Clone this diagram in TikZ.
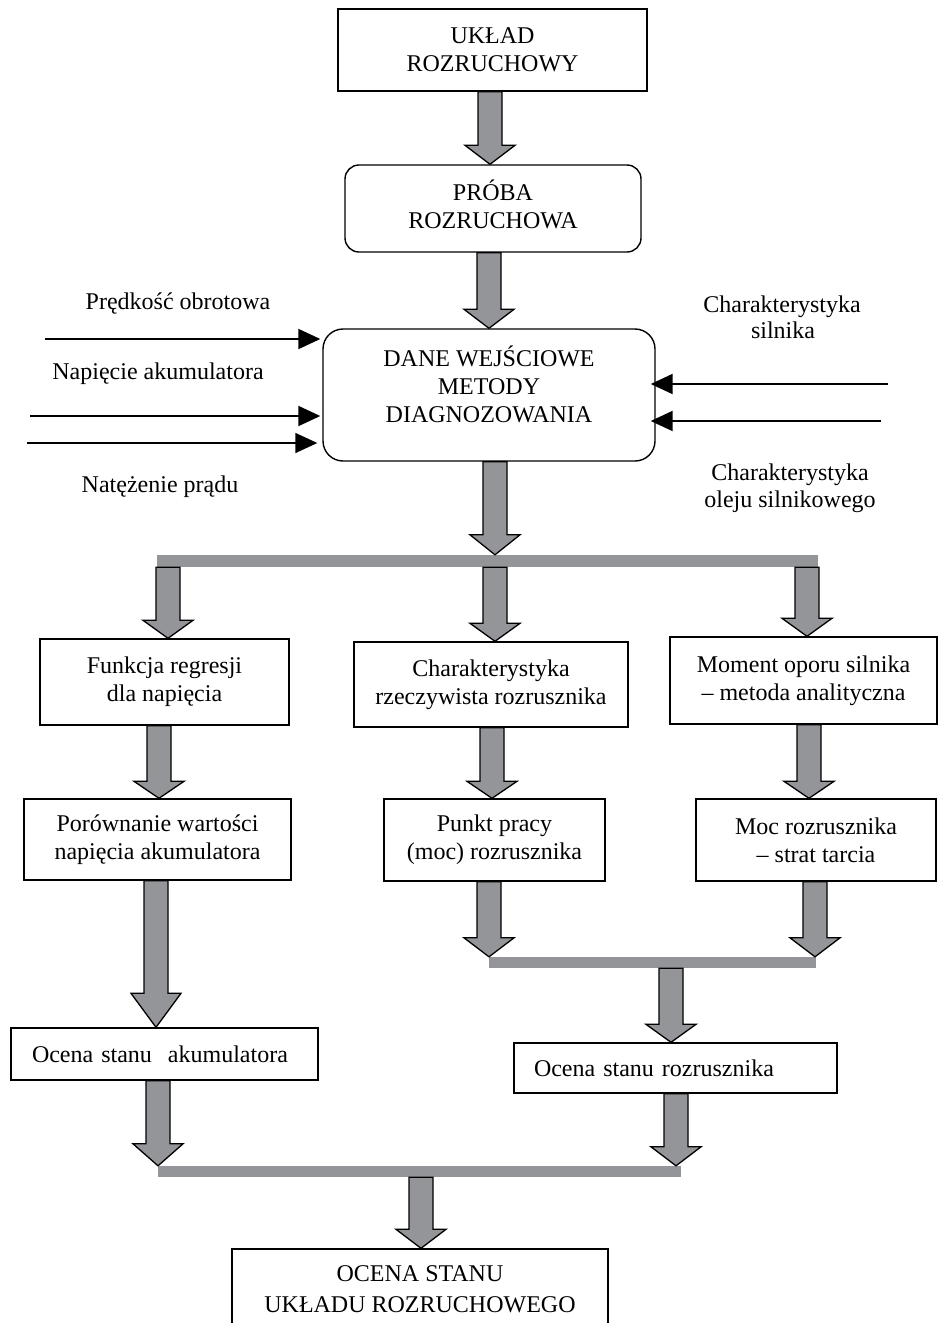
\documentclass[tikz,border=0pt]{standalone}
\usepackage{fontspec}
\setmainfont{Liberation Serif}
\usetikzlibrary{arrows.meta,calc}
\definecolor{arrgray}{HTML}{939598}
\tikzset{
  txt/.style={font=\fontsize{24}{28}\selectfont, inner sep=0pt},
  box/.style={txt, draw, line width=1.4pt, align=center},
  rbox/.style={box, rounded corners=#1},
  bar/.style={fill=arrgray, draw=none, inner sep=0pt},
  fatarrow/.style={fill=arrgray, draw=black, line width=1.3pt, line join=miter},
  inarrow/.style={line width=2pt, -{Triangle[length=22pt,width=20pt]}},
}
\newcommand\lift[1]{\rule[-#1]{0pt}{#1}}
\newcommand\fatarrow[4][19]{%
  \path[fatarrow] let \p1=(#3), \p2=(#4) in
    ({#2-12},\y1) -- ({#2+12},\y1) -- ({#2+12},\y2+#1pt) -- ({#2+25},\y2+#1pt)
    -- (#2,\y2) -- ({#2-25},\y2+#1pt) -- ({#2-12},\y2+#1pt) -- cycle;}
\begin{document}
\begin{tikzpicture}[x=1pt,y=-1pt]
\path[use as bounding box, fill=white] (0,0) rectangle (938,1323);

% boxes
\node[box, minimum width=309pt, minimum height=82pt] (uklad) at (492.5,50) {UKŁAD\\ROZRUCHOWY};
\node[rbox=14pt, minimum width=296pt, minimum height=87pt] (proba) at (493,208.5) {PRÓBA\\ROZRUCHOWA\lift{8pt}};
\node[rbox=20pt, minimum width=332pt, minimum height=132pt] (dane) at (489,395) {DANE WEJŚCIOWE\\METODY\\DIAGNOZOWANIA\lift{22pt}};

\node[bar, minimum width=661pt, minimum height=12pt] (bar1) at (487.5,561) {};

\node[box, minimum width=249pt, minimum height=86pt] (funkcja) at (164.5,682) {Funkcja regresji\\dla napięcia};
\node[box, minimum width=274pt, minimum height=85pt] (charakt) at (491,684.5) {Charakterystyka\\rzeczywista rozrusznika};
\node[box, minimum width=267pt, minimum height=87pt] (moment) at (803.5,680.5) {Moment oporu silnika\\– metoda analityczna};

\node[box, minimum width=267pt, minimum height=81pt] (porown) at (157.5,839.5) {Porównanie wartości\\napięcia akumulatora};
\node[box, minimum width=221pt, minimum height=82pt] (punkt) at (494.5,840) {Punkt pracy\\(moc) rozrusznika};
\node[box, minimum width=240pt, minimum height=82pt] (moc) at (816,840) {Moc rozrusznika\\– strat tarcia};

\node[bar, minimum width=327pt, minimum height=11pt] (bar2) at (652.5,962.5) {};

\node[box, align=left, text width=265pt, inner xsep=21pt, minimum height=52pt] (akum) at (164.5,1054) {Ocena stanu\ \ akumulatora};
\node[box, align=left, text width=283pt, inner xsep=20pt, minimum height=50pt] (rozr) at (675.5,1068) {Ocena stanu rozrusznika};

\node[bar, minimum width=523pt, minimum height=11pt] (bar3) at (419.5,1171.5) {};

\node[box, minimum width=376pt, minimum height=81pt] (final) at (420,1289.5) {OCENA STANU\\[3pt]UKŁADU ROZRUCHOWEGO};

% block arrows
\fatarrow{490}{uklad.south}{proba.north}
\fatarrow{489}{proba.south}{dane.north}
\fatarrow[20]{495}{dane.south}{bar1.north}
\fatarrow[18]{168}{bar1.south}{funkcja.north}
\fatarrow[18]{495}{bar1.south}{charakt.north}
\fatarrow[18]{807}{bar1.south}{moment.north}
\fatarrow[17]{159}{funkcja.south}{porown.north}
\fatarrow[17]{492}{charakt.south}{punkt.north}
\fatarrow[17]{809}{moment.south}{moc.north}
\fatarrow[34]{156}{porown.south}{akum.north}
\fatarrow{489}{punkt.south}{bar2.north}
\fatarrow{815}{moc.south}{bar2.north}
\fatarrow[18]{671}{bar2.south}{rozr.north}
\fatarrow[22]{158}{akum.south}{bar3.north}
\fatarrow{676}{rozr.south}{bar3.north}
\fatarrow{421}{bar3.south}{final.north}

% input arrows
\coordinate (in1) at (45,339);
\coordinate (in2) at (30,416);
\coordinate (in3) at (27,443);
\coordinate (in4) at (888,384);
\coordinate (in5) at (881,421);
\draw[inarrow, shorten >=2pt] (in1) -- (in1 -| dane.west);
\draw[inarrow, shorten >=2pt] (in2) -- (in2 -| dane.west);
\draw[inarrow, line width=1.5pt, shorten >=5pt] (in3) -- (in3 -| dane.west);
\draw[inarrow, shorten >=-5pt] (in4) -- (in4 -| dane.east);
\draw[inarrow, shorten >=-5pt] (in5) -- (in5 -| dane.east);

% labels
\node[txt, anchor=base] (l1) at (178,309) {Prędkość obrotowa};
\node[txt, anchor=base] (l2) at (158,379) {Napięcie akumulatora};
\node[txt, anchor=base] (l3) at (160,492) {Natężenie prądu};
\node[txt, anchor=base] (l4a) at (782,312) {Charakterystyka};
\node[txt, anchor=base] (l4b) at (783,338) {silnika};
\node[txt, anchor=base] (l5a) at (790,480) {Charakterystyka};
\node[txt, anchor=base] (l5b) at (790,507) {oleju silnikowego};
\end{tikzpicture}
\end{document}
